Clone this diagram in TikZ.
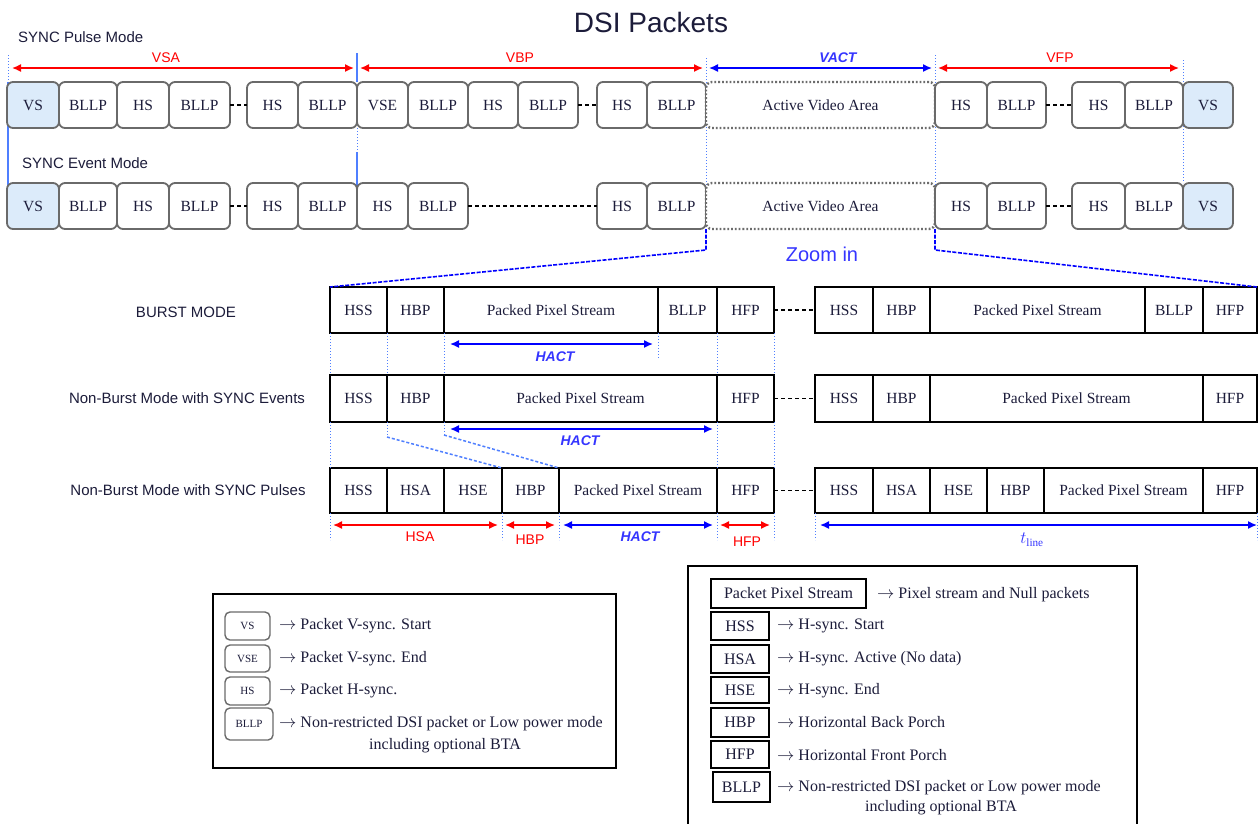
\documentclass[tikz,border=0pt]{standalone}
\usepackage{fontspec}
\setmainfont{Liberation Serif}
\setsansfont{Liberation Sans}
\usetikzlibrary{arrows.meta}
\definecolor{pktblue}{HTML}{DCEBFA}
\definecolor{pktgray}{HTML}{6A6A6A}
\definecolor{lblue}{HTML}{3535FF}
\definecolor{gblue}{HTML}{4F7FFF}
\definecolor{txt}{HTML}{1C1C3A}
\newcommand\cell[7]{\node[#1, minimum width={(#4)-(#3)}, minimum height={(#6)-(#5)}] (#2) at ({((#3)+(#4))/2},{((#5)+(#6))/2}) {#7};}
\tikzset{
  pkt/.style={draw=pktgray, line width=1.8pt, rounded corners=6pt, fill=white, inner sep=0pt, outer sep=0pt, text=txt, font=\fontsize{15.5}{17}\selectfont},
  vsp/.style={pkt, fill=pktblue},
  act/.style={pkt, draw=gray!85!black, dotted, line width=2.4pt},
  cellbox/.style={draw=black, line width=1.5pt, fill=white, inner sep=0pt, outer sep=0pt, text=txt, font=\fontsize{15.5}{17}\selectfont},
  lpkt/.style={pkt, line width=1.4pt, rounded corners=5pt, font=\fontsize{11}{12}\selectfont},
  rbox/.style={draw=black, line width=2pt, inner sep=0pt, outer sep=0pt, text=txt, font=\fontsize{16}{18}\selectfont},
  frame/.style={draw=black, line width=1.5pt, inner sep=0pt, outer sep=0pt},
  legtxt/.style={inner sep=0pt, text=txt, font=\fontsize{16}{18}\selectfont},
  sanslbl/.style={inner sep=0pt, text=txt, font=\sffamily\fontsize{15}{17}\selectfont},
  redlbl/.style={inner sep=0pt, text=red, font=\sffamily\fontsize{14}{16}\selectfont},
  actlbl/.style={inner sep=0pt, text=lblue, font=\sffamily\bfseries\itshape\fontsize{14}{16}\selectfont},
  dimarr/.style={line width=1.5pt, {Latex[length=9pt,width=8pt]}-{Latex[length=9pt,width=8pt]}},
  redarr/.style={dimarr, red},
  bluearr/.style={dimarr, blue},
  guide/.style={gblue, line width=1pt, dotted},
  bline/.style={gblue, line width=1.3pt},
  zoomline/.style={blue, line width=1.6pt, dash pattern=on 4pt off 1.5pt},
  diagline/.style={gblue, line width=1.5pt, dash pattern=on 3pt off 2pt},
  gap/.style={black, line width=1.5pt, dash pattern=on 4pt off 3pt},
}
\begin{document}
\begin{tikzpicture}[x=1pt,y=-1pt]
\useasboundingbox (0,0) rectangle (1259,823);
\fill[white] (0,0) rectangle (1259,823);

% title
\node[inner sep=0pt, text=txt, font=\sffamily\fontsize{28}{32}\selectfont] (title) at (651,22) {DSI Packets};
\node[sanslbl, anchor=west] (lblpulse) at (18,37) {SYNC Pulse Mode};
\node[sanslbl, anchor=west] (lblevent) at (22,163) {SYNC Event Mode};

% vertical guides (top)
\draw[guide] (8,55) -- (8,82);
\draw[bline] (8,82) -- (8,192);
\draw[bline] (357,53) -- (357,82);
\draw[guide] (357,128) -- (357,152);
\draw[bline] (357,152) -- (357,190);
\draw[guide] (706,58) -- (706,229);
\draw[guide] (935,55) -- (935,229);
\draw[guide] (1183,60) -- (1183,183);

% row 1
\cell{vsp}{a1}{7}{59}{82}{128}{VS}
\cell{pkt}{a2}{59}{117}{82}{128}{BLLP}
\cell{pkt}{a3}{117}{169}{82}{128}{HS}
\cell{pkt}{a4}{169}{230}{82}{128}{BLLP}
\cell{pkt}{a5}{247}{298}{82}{128}{HS}
\cell{pkt}{a6}{298}{357}{82}{128}{BLLP}
\cell{pkt}{a7}{357}{408}{82}{128}{VSE}
\cell{pkt}{a8}{408}{468}{82}{128}{BLLP}
\cell{pkt}{a9}{468}{518}{82}{128}{HS}
\cell{pkt}{a10}{518}{578}{82}{128}{BLLP}
\cell{pkt}{a11}{597}{647}{82}{128}{HS}
\cell{pkt}{a12}{647}{706}{82}{128}{BLLP}
\cell{act}{a13}{706}{935}{82}{128}{Active Video Area}
\cell{pkt}{a14}{935}{987}{82}{128}{HS}
\cell{pkt}{a15}{987}{1046}{82}{128}{BLLP}
\cell{pkt}{a16}{1072}{1125}{82}{128}{HS}
\cell{pkt}{a17}{1125}{1183}{82}{128}{BLLP}
\cell{vsp}{a18}{1183}{1233}{82}{128}{VS}
\draw[gap] (a4) -- (a5);
\draw[gap] (a10) -- (a11);
\draw[gap] (a15) -- (a16);

% row 2
\cell{vsp}{b1}{7}{59}{183}{229}{VS}
\cell{pkt}{b2}{59}{117}{183}{229}{BLLP}
\cell{pkt}{b3}{117}{169}{183}{229}{HS}
\cell{pkt}{b4}{169}{230}{183}{229}{BLLP}
\cell{pkt}{b5}{247}{298}{183}{229}{HS}
\cell{pkt}{b6}{298}{357}{183}{229}{BLLP}
\cell{pkt}{b7}{357}{408}{183}{229}{HS}
\cell{pkt}{b8}{408}{468}{183}{229}{BLLP}
\cell{pkt}{b9}{597}{647}{183}{229}{HS}
\cell{pkt}{b10}{647}{706}{183}{229}{BLLP}
\cell{act}{b11}{706}{935}{183}{229}{Active Video Area}
\cell{pkt}{b12}{935}{987}{183}{229}{HS}
\cell{pkt}{b13}{987}{1046}{183}{229}{BLLP}
\cell{pkt}{b14}{1072}{1125}{183}{229}{HS}
\cell{pkt}{b15}{1125}{1183}{183}{229}{BLLP}
\cell{vsp}{b16}{1183}{1233}{183}{229}{VS}
\draw[gap] (b4) -- (b5);
\draw[gap] (b8) -- (b9);
\draw[gap] (b13) -- (b14);

% top dimension arrows
\coordinate (vsaL) at (12,68);  \coordinate (vsaR) at (354,68);
\coordinate (vbpL) at (360,68); \coordinate (vbpR) at (703,68);
\coordinate (vacL) at (709,68); \coordinate (vacR) at (932,68);
\coordinate (vfpL) at (938,68); \coordinate (vfpR) at (1179,68);
\draw[redarr] (vsaL) -- (vsaR);
\draw[redarr] (vbpL) -- (vbpR);
\draw[bluearr] (vacL) -- (vacR);
\draw[redarr] (vfpL) -- (vfpR);
\node[redlbl] (tvsa) at (166,58) {VSA};
\node[redlbl] (tvbp) at (520,58) {VBP};
\node[actlbl] (tvact) at (838,58) {VACT};
\node[redlbl] (tvfp) at (1060,58) {VFP};

% middle rows
\cell{cellbox}{c1}{330}{387}{287}{333}{HSS}
\cell{cellbox}{c2}{387}{444}{287}{333}{HBP}
\cell{cellbox}{c3}{444}{658}{287}{333}{Packed Pixel Stream}
\cell{cellbox}{c4}{658}{717}{287}{333}{BLLP}
\cell{cellbox}{c5}{717}{774}{287}{333}{HFP}
\cell{cellbox}{c6}{815}{873}{287}{333}{HSS}
\cell{cellbox}{c7}{873}{930}{287}{333}{HBP}
\cell{cellbox}{c8}{930}{1145}{287}{333}{Packed Pixel Stream}
\cell{cellbox}{c9}{1145}{1203}{287}{333}{BLLP}
\cell{cellbox}{c10}{1203}{1257}{287}{333}{HFP}
\draw[gap] (c5) -- (c6);

\cell{cellbox}{d1}{330}{387}{375}{422}{HSS}
\cell{cellbox}{d2}{387}{444}{375}{422}{HBP}
\cell{cellbox}{d3}{444}{717}{375}{422}{Packed Pixel Stream}
\cell{cellbox}{d4}{717}{774}{375}{422}{HFP}
\cell{cellbox}{d5}{815}{873}{375}{422}{HSS}
\cell{cellbox}{d6}{873}{930}{375}{422}{HBP}
\cell{cellbox}{d7}{930}{1203}{375}{422}{Packed Pixel Stream}
\cell{cellbox}{d8}{1203}{1257}{375}{422}{HFP}
\draw[gap] (d4) -- (d5);

\cell{cellbox}{e1}{330}{387}{468}{513}{HSS}
\cell{cellbox}{e2}{387}{444}{468}{513}{HSA}
\cell{cellbox}{e3}{444}{502}{468}{513}{HSE}
\cell{cellbox}{e4}{502}{559}{468}{513}{HBP}
\cell{cellbox}{e5}{559}{717}{468}{513}{Packed Pixel Stream}
\cell{cellbox}{e6}{717}{774}{468}{513}{HFP}
\cell{cellbox}{e7}{815}{873}{468}{513}{HSS}
\cell{cellbox}{e8}{873}{930}{468}{513}{HSA}
\cell{cellbox}{e9}{930}{987}{468}{513}{HSE}
\cell{cellbox}{e10}{987}{1044}{468}{513}{HBP}
\cell{cellbox}{e11}{1044}{1203}{468}{513}{Packed Pixel Stream}
\cell{cellbox}{e12}{1203}{1257}{468}{513}{HFP}
\draw[gap] (e6) -- (e7);

% zoom-in lines
\draw[zoomline] (b10.south east) -- ++(0,21) -- (c1.north west);
\draw[zoomline] (b12.south west) -- ++(0,21) -- (c10.north east);
\node[inner sep=0pt, text=lblue, font=\sffamily\fontsize{20}{24}\selectfont] (zoomtxt) at (822,254) {Zoom in};

% guides middle
\draw[guide] (c1.south west) -- (d1.north west);
\draw[guide] (d1.south west) -- (e1.north west);
\draw[guide] (e1.south west) -- ++(0,27);
\draw[guide] (c2.south west) -- (d2.north west);
\draw[guide] (d2.south west) -- ++(0,15) coordinate (k1);
\draw[diagline] (k1) -- (e4.north west);
\draw[guide] (c3.south west) -- (d3.north west);
\draw[guide] (d3.south west) -- ++(0,13) coordinate (k2);
\draw[diagline] (k2) -- (e5.north west);
\draw[guide] (c4.south west) -- ++(0,25);
\draw[guide] (c5.south west) -- (d4.north west);
\draw[guide] (d4.south west) -- (e6.north west);
\draw[guide] (e6.south west) -- ++(0,27);
\draw[guide] (c5.south east) -- (d4.north east);
\draw[guide] (d4.south east) -- (e6.north east);
\draw[guide] (e6.south east) -- ++(0,27);
\draw[guide] (e4.south west) -- ++(0,27);
\draw[guide] (e5.south west) -- ++(0,27);
\draw[guide] (e7.south west) -- ++(0,27);
\draw[guide] (e12.south east) -- ++(0,27);

% HACT arrows
\coordinate (h1L) at (450,344); \coordinate (h1R) at (653,344);
\coordinate (h2L) at (450,429); \coordinate (h2R) at (713,429);
\draw[bluearr] (h1L) -- (h1R);
\draw[bluearr] (h2L) -- (h2R);
\node[actlbl] (thact1) at (555,357) {HACT};
\node[actlbl] (thact2) at (580,441) {HACT};

% bottom arrows
\coordinate (p1L) at (333,525); \coordinate (p1R) at (498,525);
\coordinate (p2L) at (505,525); \coordinate (p2R) at (555,525);
\coordinate (p3L) at (563,525); \coordinate (p3R) at (713,525);
\coordinate (p4L) at (720,525); \coordinate (p4R) at (770,525);
\coordinate (p5L) at (820,525); \coordinate (p5R) at (1257,525);
\draw[redarr] (p1L) -- (p1R);
\draw[redarr] (p2L) -- (p2R);
\draw[bluearr] (p3L) -- (p3R);
\draw[redarr] (p4L) -- (p4R);
\draw[bluearr] (p5L) -- (p5R);
\node[redlbl] (thsa) at (420,537) {HSA};
\node[redlbl] (thbp) at (530,540) {HBP};
\node[actlbl] (thact3) at (640,537) {HACT};
\node[redlbl] (thfp) at (747,542) {HFP};
\node[inner sep=0pt, text=lblue, font=\fontsize{16}{18}\selectfont] (ttline) at (1032,540) {$t_{\mathrm{line}}$};

% mode labels
\node[sanslbl] (mburst) at (186,312) {BURST MODE};
\node[sanslbl] (mevent) at (187,398) {Non-Burst Mode with SYNC Events};
\node[sanslbl] (mpulse) at (188,490) {Non-Burst Mode with SYNC Pulses};

% left legend
\cell{frame}{lgL}{213}{616}{594}{768}{}
\cell{lpkt}{lg1}{225}{270}{612}{640}{VS}
\cell{lpkt}{lg2}{225}{270}{645}{672}{VSE}
\cell{lpkt}{lg3}{225}{270}{677}{705}{HS}
\cell{lpkt}{lg4}{225}{273}{708}{740}{BLLP}
\node[legtxt, anchor=west] (lt1) at (279,626) {$\rightarrow$ Packet V-sync. Start};
\node[legtxt, anchor=west] (lt2) at (279,659) {$\rightarrow$ Packet V-sync. End};
\node[legtxt, anchor=west] (lt3) at (279,691) {$\rightarrow$ Packet H-sync.};
\node[legtxt, anchor=west] (lt4) at (279,724) {$\rightarrow$ Non-restricted DSI packet or Low power mode};
\node[legtxt] (lt5) at (445,746) {including optional BTA};

% right legend
\cell{frame}{lgR}{688}{1137}{566}{826}{}
\cell{rbox}{r1}{711}{866}{579}{608}{Packet Pixel Stream}
\cell{rbox}{r2}{711}{769}{612}{640}{HSS}
\cell{rbox}{r3}{711}{769}{645}{673}{HSA}
\cell{rbox}{r4}{711}{769}{677}{703}{HSE}
\cell{rbox}{r5}{711}{769}{708}{737}{HBP}
\cell{rbox}{r6}{711}{769}{741}{768}{HFP}
\cell{rbox}{r7}{713}{770}{772}{802}{BLLP}
\node[legtxt, anchor=west] (rt1) at (877,595) {$\rightarrow$ Pixel stream and Null packets};
\node[legtxt, anchor=west] (rt2) at (777,626) {$\rightarrow$ H-sync. Start};
\node[legtxt, anchor=west] (rt3) at (777,659) {$\rightarrow$ H-sync. Active (No data)};
\node[legtxt, anchor=west] (rt4) at (777,691) {$\rightarrow$ H-sync. End};
\node[legtxt, anchor=west] (rt5) at (777,722) {$\rightarrow$ Horizontal Back Porch};
\node[legtxt, anchor=west] (rt6) at (777,755) {$\rightarrow$ Horizontal Front Porch};
\node[legtxt, anchor=west] (rt7) at (777,788) {$\rightarrow$ Non-restricted DSI packet or Low power mode};
\node[legtxt] (rt8) at (941,808) {including optional BTA};
\end{tikzpicture}
\end{document}
